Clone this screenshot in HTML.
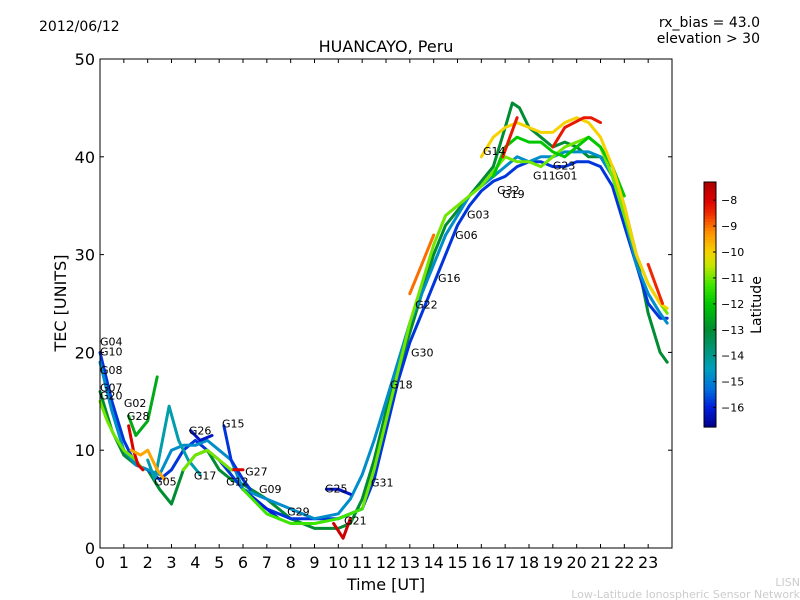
<!DOCTYPE html>
<html><head><meta charset="utf-8"><style>
body{margin:0;background:#fff;}
svg{display:block;font-family:"DejaVu Sans","Liberation Sans",sans-serif;}
</style></head><body>
<svg id="c" width="800" height="600">
<rect x="0" y="0" width="800" height="600" fill="#fff"/>
<text x="39" y="31" font-size="14">2012/06/12</text>
<text x="760" y="27" font-size="14" text-anchor="end">rx_bias = 43.0</text>
<text x="760" y="43" font-size="14" text-anchor="end">elevation &gt; 30</text>
<text x="386" y="52" font-size="16" text-anchor="middle">HUANCAYO, Peru</text>
<text x="386" y="590" font-size="16" text-anchor="middle">Time [UT]</text>
<text transform="translate(66,303) rotate(-90)" font-size="16" text-anchor="middle">TEC [UNITS]</text>
<text x="800" y="586" font-size="11" fill="#ccc" text-anchor="end">LISN</text>
<text x="800" y="598" font-size="11" fill="#ccc" text-anchor="end">Low-Latitude Ionospheric Sensor Network</text>
<g id="marks"></g>
<g id="axes"></g>
<g id="cbar"></g>
</svg>
<script>
const seriesTimes = [
 [0,0.5,1,1.5,2,2.5,3,3.5,4,4.5,5,5.5,6,7,8,9,10,10.5,11,11.5,12,12.5,13,13.5,14,14.5,15,15.5,16,16.5,17,17.3,17.6,18,18.5,19,19.5,20,20.5,21,21.5,22,22.5,23,23.5,23.8],
 [0,0.5,1,1.5,2,2.5,3,3.5,4,5,6,7,8,9,10,11,11.5,12,12.5,13,13.5,14,14.5,15,15.5,16,16.5,17,17.5,18,18.5,19,19.5,20,20.5,21,21.5,22,22.5,23,23.5,23.8],
 [0,0.5,1,1.5,2,2.5,3,3.5,4,4.5,5,5.5,6,7,8,9,10,10.5,11,11.5,12,12.5,13,13.5,14,14.5,15,15.5,16,16.5,17,17.5,18,18.5,19,19.5,20,20.5,21,21.5,22,22.5,23,23.5,23.8],
 [0,0.3,0.6,1,1.5,1.8],
 [11,11.5,12,12.5,13,13.5,14,14.5,15,15.5,16,16.5,17,17.5,18,18.5,19,19.5,20,20.5,21,21.5,22,22.5,23,23.5,23.8],
 [16.5,17,17.5,18,18.5,19,19.5,20,20.5,21,21.5,22],
 [16,16.5,17,17.5,18,18.5,19,19.5,20,20.5,21,21.5,22,22.5,23,23.5,23.8],
 [19,19.5,20.3,20.6,21],
 [16.9,17.2,17.5],
 [13,13.5,14],
 [23,23.3,23.6],
 [1.2,1.5,2,2.4],
 [1.2,1.4,1.6,1.8],
 [5.2,5.5,6,6.3],
 [3.8,4.2,4.7],
 [2,2.3,2.9,3.3,3.7,4.2],
 [9.5,10,10.5],
 [9.8,10.2,10.5],
 [6,6.5,7,7.5],
 [5.5,6],
 [1.3,1.7,2,2.4,2.7],
 [3.5,4,4.5,5,5.5],
 [6,7,8,9,10,11]
];
const seriesValues = [
 [16,12,9.5,8.5,8,6,4.5,8,9.5,10,8,7,6.5,5,3,2,2,2.5,5,9,14,18,22,26,30,33,34.5,36,37.5,39,43,45.5,45,43,42,41,41.5,41,40,40,39,35,30,24,20,19],
 [20,15,11,8.5,8,7,8,10,11,9,6,4,3,3,3,4,7,12,17,21,24,27,30,33,35,36.5,37.5,38,39,39.5,39.5,39,39,39.5,39.5,39,37,33,29,25,23.5,23.5],
 [19,14,10,8.5,8,7.5,10,10.5,10.5,11,10,9,6,5,4,3,3.5,5,7.5,11,15,19,23,26,29,32,34,36,37,38,39,40,39.5,40,40,40.5,40.5,40.5,40,38,34,29,26,24,23],
 [15,13,11.5,10,9,8],
 [4,8,13,18,23,27,31,34,35,36,37,38.5,40,39.5,39.5,39,40,41,41.5,42,41,38,34,30,27,25,24],
 [38,41,42,41.5,41.5,40.5,40,41,42,41,39,36],
 [40,42,43,43.5,43,42.5,42.5,43.5,44,43.5,42,39,35,30,27,25,24.5],
 [41,43,44,44,43.5],
 [40,42,44],
 [26,29,32],
 [29,27,25],
 [13.5,11.5,13,17.5],
 [12.5,10,8.5,8],
 [12.5,9,7,6],
 [12,11,11.5],
 [9,7,14.5,11,9,7.5],
 [6,6,5.5],
 [2.5,1,3],
 [6,5,4,3],
 [8,8],
 [10,9.5,10,8,7],
 [8,9.5,10,9,8],
 [6,3.5,2.5,2.5,3,4]
];
const seriesLats = [-13,-15.8,-14.8,-11,-11,-12,-10,-8.3,-8.3,-9,-8.5,-12.5,-8,-15.8,-16.2,-14.3,-16.2,-7.8,-16,-8,-9.5,-11,-11.3];
const labelNames = ["G04","G10","G08","G07","G20","G02","G28","G05","G26","G17","G15","G27","G12","G09","G29","G25","G21","G31","G18","G30","G22","G16","G06","G03","G14","G32","G19","G11","G01","G23"];
const labelTimes = [0,0,0,0,0,1.0,1.13,2.27,3.73,3.94,5.12,6.09,5.29,6.67,7.85,9.44,10.24,11.37,12.17,13.05,13.22,14.18,14.9,15.4,16.07,16.66,16.87,18.17,19.09,19.0];
const labelValues = [20.7,19.7,17.8,16.0,15.2,14.4,13.1,6.4,11.6,7.0,12.3,7.4,6.4,5.6,3.3,5.7,2.4,6.3,16.3,19.6,24.5,27.2,31.6,33.7,40.2,36.2,35.8,37.7,37.7,38.7];
const xTicks = [0,1,2,3,4,5,6,7,8,9,10,11,12,13,14,15,16,17,18,19,20,21,22,23];
const yTicks = [0,10,20,30,40,50];
const cbTicks = [-8,-9,-10,-11,-12,-13,-14,-15,-16];

const X0=100,X1=672,Y0=548,Y1=59;
const xs=t=>X0+(X1-X0)*t/24;
const ys=v=>Y0-(Y0-Y1)*v/50;
const LMIN=-16.75,LMAX=-7.3;
const STOPS=[[-16.75,0,0,140],[-16,0,30,220],[-15.3,0,110,220],[-14.5,0,160,190],[-13.8,0,150,120],[-13,0,140,50],[-12,0,200,0],[-11.3,60,230,0],[-10.5,200,230,0],[-10,245,210,0],[-9.2,255,140,0],[-8.5,240,40,0],[-8,220,0,0],[-7.3,170,0,0]];
function latColor(l){
  l=Math.max(LMIN,Math.min(LMAX,l));
  for(let i=1;i<STOPS.length;i++){
    if(l<=STOPS[i][0]){
      const a=STOPS[i-1],b=STOPS[i],f=(l-a[0])/(b[0]-a[0]);
      const c=k=>Math.round(a[k]+(b[k]-a[k])*f);
      return `rgb(${c(1)},${c(2)},${c(3)})`;
    }
  }
  return 'rgb(170,0,0)';
}
const NS='http://www.w3.org/2000/svg';
function mk(tag,attrs,parent){const e=document.createElementNS(NS,tag);for(const k in attrs)e.setAttribute(k,attrs[k]);parent.appendChild(e);return e;}
const marks=document.getElementById('marks');
seriesTimes.forEach((ts,i)=>{
  const d=ts.map((t,j)=>(j?'L':'M')+xs(t).toFixed(1)+','+ys(seriesValues[i][j]).toFixed(1)).join('');
  const p=mk('path',{d:d,fill:'none',stroke:latColor(seriesLats[i]),'stroke-width':3,'stroke-linejoin':'round','stroke-linecap':'round'},marks);
  
  
});
labelNames.forEach((n,i)=>{
  const t=mk('text',{x:xs(labelTimes[i]),y:ys(labelValues[i]),'font-size':11},marks);
  t.textContent=n;
  
  
});
const ax=document.getElementById('axes');
const frame=mk('rect',{x:X0,y:Y1,width:X1-X0,height:Y0-Y1,fill:'none',stroke:'#000','stroke-width':1},ax);


xTicks.forEach(t=>{
  const x=xs(t);
  mk('line',{x1:x,x2:x,y1:Y0,y2:Y0-4,stroke:'#000'},ax);
  mk('line',{x1:x,x2:x,y1:Y1,y2:Y1+4,stroke:'#000'},ax);
  const l=mk('text',{x:x,y:Y0+20,'font-size':16,'text-anchor':'middle'},ax);
  l.textContent=t;
  
  
});
yTicks.forEach(v=>{
  const y=ys(v);
  mk('line',{x1:X0,x2:X0+4,y1:y,y2:y,stroke:'#000'},ax);
  mk('line',{x1:X1,x2:X1-4,y1:y,y2:y,stroke:'#000'},ax);
  const l=mk('text',{x:X0-5,y:y+6,'font-size':16,'text-anchor':'end'},ax);
  l.textContent=v;
  
  
});
const cb=document.getElementById('cbar');
const CX=704,CW=12,CT=182,CB=427;
const cys=l=>CB-(CB-CT)*(l-LMIN)/(LMAX-LMIN);
for(let k=0;k<80;k++){
  const y=CT+(CB-CT)*k/80;
  mk('rect',{x:CX,y:y,width:CW,height:(CB-CT)/80+0.6,fill:latColor(LMAX-(LMAX-LMIN)*(k+0.5)/80)},cb);
}
const cr=mk('rect',{x:CX,y:CT,width:CW,height:CB-CT,fill:'none',stroke:'#000'},cb);


cbTicks.forEach(l=>{
  const y=cys(l);
  mk('line',{x1:CX+CW-3,x2:CX+CW,y1:y,y2:y,stroke:'#000'},cb);
  const t=mk('text',{x:CX+CW+5,y:y+4,'font-size':11},cb);
  t.textContent='\u2212'+Math.abs(l);
  
  
});
const ct=mk('text',{transform:'translate(761,305) rotate(-90)','font-size':14,'text-anchor':'middle'},cb);
ct.textContent='Latitude';


</script>
</body></html>
